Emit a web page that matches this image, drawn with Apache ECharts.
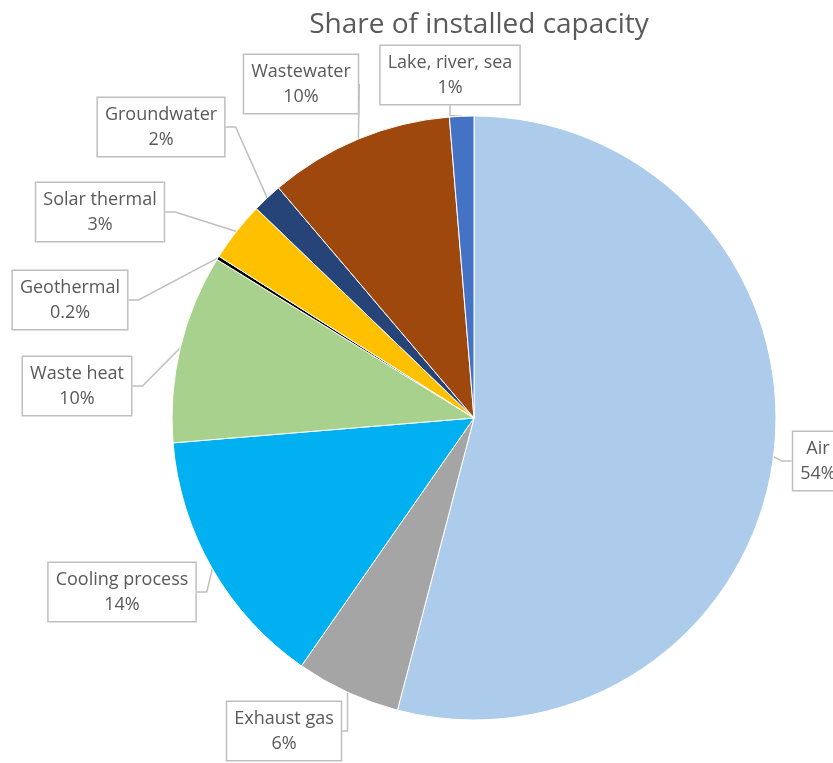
<!DOCTYPE html>
<html>
<head>
<meta charset="utf-8">
<script src="https://cdn.jsdelivr.net/npm/echarts@6/dist/echarts.min.js"></script>
<style>
  html, body { margin: 0; padding: 0; background: #fff; }
  #chart { width: 833px; height: 763px; }
</style>
</head>
<body>
<div id="chart"></div>
<script>
// Heat sources, in drawing order (clockwise from 12 o'clock)
const categories = ['Air', 'Exhaust gas', 'Cooling process', 'Waste heat', 'Geothermal',
                    'Solar thermal', 'Groundwater', 'Wastewater', 'Lake, river, sea'];
// Share of installed capacity, %
const shares = [54.05, 5.6, 14.0, 10.1, 0.2, 3.2, 1.6, 9.9, 1.3];
const colors = ['#ADCBEA', '#A5A5A5', '#00B0F0', '#A9D18E', '#000000',
                '#FFC000', '#264478', '#9E480E', '#4472C4'];

// Callout box centres (pixels) for each slice label
const calloutCentres = [
  [818, 461], [284, 731], [122, 592], [77, 386], [70, 300],
  [100, 212], [161, 127], [301, 84], [450, 75]
];

const chart = echarts.init(document.getElementById('chart'), null, { renderer: 'canvas' });

chart.setOption({
  animation: false,
  title: {
    text: 'Share of installed capacity',
    left: 474,
    textAlign: 'center',
    top: 6,
    textStyle: { fontFamily: 'Open Sans', fontSize: 28, fontWeight: 'normal', color: '#595959' }
  },
  series: [{
    type: 'pie',
    center: [474, 418],
    radius: [0, 302],
    startAngle: 90,
    clockwise: true,
    avoidLabelOverlap: false,
    minShowLabelAngle: 0,
    emphasis: { disabled: true },
    itemStyle: { borderColor: '#ffffff', borderWidth: 1 },
    label: {
      show: true,
      position: 'outside',
      formatter: p => p.name + '\n' + (p.percent < 1 ? p.percent.toFixed(1) : Math.round(p.percent)) + '%',
      fontFamily: 'Open Sans',
      fontSize: 18,
      lineHeight: 25,
      color: '#595959',
      align: 'center',
      backgroundColor: '#ffffff',
      borderColor: '#BFBFBF',
      borderWidth: 1.5,
      padding: [6, 7, 2, 7]
    },
    labelLine: {
      show: true,
      length: 20,
      length2: 10,
      lineStyle: { color: '#BFBFBF', width: 1.5 }
    },
    labelLayout: p => ({
      x: calloutCentres[p.dataIndex][0],
      y: calloutCentres[p.dataIndex][1],
      align: 'center',
      verticalAlign: 'middle'
    }),
    data: categories.map((name, i) => ({
      name,
      value: shares[i],
      itemStyle: { color: colors[i] }
    }))
  }]
});
</script>
</body>
</html>
